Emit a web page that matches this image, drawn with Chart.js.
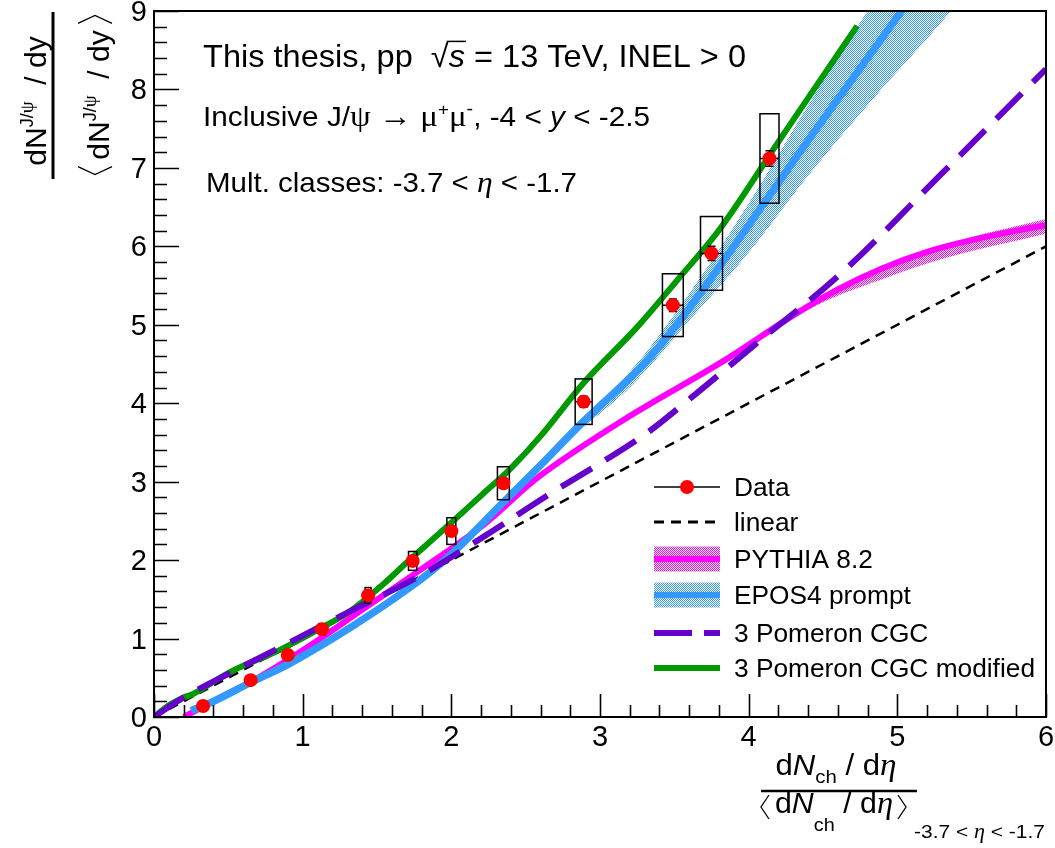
<!DOCTYPE html>
<html>
<head>
<meta charset="utf-8">
<script src="https://cdn.jsdelivr.net/npm/chart.js@4.4.0/dist/chart.umd.min.js"></script>
<style>
  html, body { margin: 0; padding: 0; background: #fff; }
  #c { display: block; width: 1055px; height: 848px; }
</style>
</head>
<body>
<canvas id="c" width="1055" height="848"></canvas>
<script>
// data points (with stat + syst uncertainties)
const dataX = [0.33, 0.65, 0.90, 1.13, 1.44, 1.74, 2.00, 2.35, 2.89, 3.49, 3.75, 4.14];
const dataY = [0.14, 0.47, 0.79, 1.12, 1.55, 1.99, 2.37, 2.98, 4.02, 5.25, 5.91, 7.12];
const dataStat = [0.03, 0.03, 0.03, 0.04, 0.04, 0.05, 0.05, 0.06, 0.07, 0.08, 0.09, 0.10];
const dataSysX = [0.01, 0.015, 0.015, 0.02, 0.02, 0.028, 0.03, 0.04, 0.057, 0.07, 0.074, 0.064];
const dataSysY = [0.02, 0.04, 0.05, 0.07, 0.10, 0.12, 0.17, 0.21, 0.29, 0.40, 0.47, 0.57];

// models
const linearX = [0, 6];
const linearY = [0, 6];

const pythiaX = [0.2, 0.45, 0.7, 1.0, 1.41, 1.75, 2.21, 2.6, 3.16, 3.84, 4.3, 4.6, 4.9, 5.2, 5.5, 5.8, 6.0];
const pythiaY = [0.0, 0.25, 0.5, 0.85, 1.38, 1.82, 2.44, 3.08, 3.79, 4.55, 5.12, 5.45, 5.72, 5.93, 6.08, 6.2, 6.27];
const pythiaBandX = [4.3, 4.6, 4.9, 5.2, 5.5, 5.8, 6.0];
const pythiaBandLo = [5.1, 5.37, 5.58, 5.78, 5.94, 6.07, 6.16];
const pythiaBandHi = [5.13, 5.47, 5.74, 5.95, 6.12, 6.26, 6.35];

const eposX = [0.25, 0.4, 0.65, 0.92, 1.32, 1.72, 1.99, 2.33, 2.6, 2.89, 3.27, 3.5, 3.75, 4.13, 4.4, 4.8, 5.2];
const eposY = [0.08, 0.2, 0.44, 0.69, 1.14, 1.65, 2.06, 2.70, 3.21, 3.77, 4.45, 4.96, 5.6, 6.62, 7.35, 8.4, 9.45];
const eposBandX = [2.4, 2.8, 3.2, 3.6, 4.0, 4.4, 4.8, 5.2, 5.5];
const eposBandLo = [2.79, 3.55, 4.2, 5.05, 5.92, 6.9, 7.8, 8.65, 9.3];
const eposBandHi = [2.85, 3.65, 4.4, 5.4, 6.55, 7.8, 9.0, 10.0, 10.8];

const cgcX = [0, 0.2, 0.5, 0.85, 1.32, 1.77, 2.21, 2.66, 3.27, 3.6, 4.05, 4.63, 5.29, 6.0];
const cgcY = [0, 0.25, 0.55, 0.89, 1.35, 1.78, 2.29, 2.84, 3.56, 4.05, 4.76, 5.67, 6.91, 8.26];

const cgcModX = [0, 0.1, 0.2, 0.26, 0.53, 0.83, 1.09, 1.32, 1.54, 1.7, 1.99, 2.21, 2.39, 2.6, 2.9, 3.25, 3.52, 3.81, 4.21, 4.5, 4.73];
const cgcModY = [0, 0.15, 0.25, 0.29, 0.59, 0.84, 1.10, 1.35, 1.69, 1.97, 2.46, 2.84, 3.15, 3.58, 4.28, 4.97, 5.57, 6.23, 7.36, 8.17, 8.81];

const xTicks = [0, 1, 2, 3, 4, 5, 6];
const yTicks = [0, 1, 2, 3, 4, 5, 6, 7, 8, 9];

const COL = { red: "#ff0000", pink: "#ff00ff", blue: "#3399ff", purple: "#6600cc", green: "#009900" };
const SANS = '"Liberation Sans", Arial, Helvetica, sans-serif';
const SERIF = '"Liberation Serif", "Times New Roman", serif';

const canvas = document.getElementById("c");
const ctx0 = canvas.getContext("2d");

function hatch(color) {
  const t = document.createElement("canvas");
  t.width = 2; t.height = 2;
  const g = t.getContext("2d");
  g.fillStyle = color;
  g.fillRect(0, 0, 1, 1);
  g.fillRect(1, 1, 1, 1);
  return ctx0.createPattern(t, "repeat");
}
const pinkHatch = hatch(COL.pink);
const blueHatch = hatch(COL.blue);

function pts(xs, ys) {
  return xs.map((x, i) => ({ x: x, y: ys[i] }));
}

function fontOf(p) {
  return (p.i ? "italic " : "") + p.s + "px " + (p.f === "serif" ? SERIF : SANS);
}
function richWidth(ctx, parts) {
  let w = 0;
  parts.forEach(p => { ctx.font = fontOf(p); w += ctx.measureText(p.t).width; });
  return w;
}
// draws text runs (sub/superscripts via dy); fitW stretches the line horizontally
function drawRich(ctx, x, y, parts, align, fitW) {
  const w0 = richWidth(ctx, parts);
  const sx = fitW ? fitW / w0 : 1;
  const w = w0 * sx;
  const x0 = align === "center" ? x - w / 2 : (align === "right" ? x - w : x);
  ctx.save();
  ctx.translate(x0, 0);
  ctx.scale(sx, 1);
  ctx.textBaseline = "alphabetic";
  ctx.textAlign = "left";
  let cx = 0;
  parts.forEach(p => {
    ctx.font = fontOf(p);
    const pw = ctx.measureText(p.t).width;
    ctx.fillText(p.t, cx, y + (p.dy || 0));
    if (p.over) {
      ctx.lineWidth = 1.5;
      ctx.beginPath();
      ctx.moveTo(cx - 2, y - p.s * 0.8);
      ctx.lineTo(cx + pw + 1, y - p.s * 0.8);
      ctx.stroke();
    }
    cx += pw;
  });
  ctx.restore();
  return { x0: x0, w: w };
}
function bracket(ctx, x, top, bot, w, left) {
  ctx.save();
  ctx.lineWidth = 1.3;
  ctx.beginPath();
  const mid = (top + bot) / 2;
  if (left) {
    ctx.moveTo(x + w, top); ctx.lineTo(x, mid); ctx.lineTo(x + w, bot);
  } else {
    ctx.moveTo(x, top); ctx.lineTo(x + w, mid); ctx.lineTo(x, bot);
  }
  ctx.stroke();
  ctx.restore();
}

const rootStyle = {
  id: "rootStyle",
  beforeDatasetDraw(chart, args) {
    if (args.index !== 0) return;
    const { ctx, scales: { x, y } } = chart;
    ctx.save();
    ctx.strokeStyle = "#000";
    ctx.lineWidth = 1.5;
    dataX.forEach((vx, i) => {
      const x0 = x.getPixelForValue(vx - dataSysX[i]);
      const x1 = x.getPixelForValue(vx + dataSysX[i]);
      const y0 = y.getPixelForValue(dataY[i] + dataSysY[i]);
      const y1 = y.getPixelForValue(dataY[i] - dataSysY[i]);
      ctx.strokeRect(x0, y0, x1 - x0, y1 - y0);
      const px = x.getPixelForValue(vx), py = y.getPixelForValue(dataY[i]);
      const s0 = y.getPixelForValue(dataY[i] + dataStat[i]);
      const s1 = y.getPixelForValue(dataY[i] - dataStat[i]);
      ctx.beginPath();
      ctx.moveTo(x0, py); ctx.lineTo(x1, py);
      ctx.moveTo(px, s0); ctx.lineTo(px, s1);
      ctx.moveTo(px - 4, s0); ctx.lineTo(px + 4, s0);
      ctx.moveTo(px - 4, s1); ctx.lineTo(px + 4, s1);
      ctx.stroke();
    });
    ctx.restore();
  },
  afterDraw(chart) {
    const { ctx, chartArea: a, scales: { x, y } } = chart;
    ctx.save();
    ctx.fillStyle = "#000";
    ctx.strokeStyle = "#000";

    // frame
    ctx.lineWidth = 2;
    ctx.strokeRect(a.left, a.top, a.right - a.left, a.bottom - a.top);

    // ticks pointing into the frame
    ctx.lineWidth = 1.6;
    ctx.beginPath();
    for (let k = 0; k <= 45; k++) {
      const py = Math.round(y.getPixelForValue(k * 0.2)) + 0.5;
      const len = k % 5 === 0 ? 25 : 13;
      ctx.moveTo(a.left, py); ctx.lineTo(a.left + len, py);
    }
    for (let k = 0; k <= 30; k++) {
      const px = Math.round(x.getPixelForValue(k * 0.2)) + 0.5;
      const len = k % 5 === 0 ? 23 : 12;
      ctx.moveTo(px, a.bottom); ctx.lineTo(px, a.bottom - len);
    }
    ctx.stroke();

    // tick labels
    ctx.font = "29px " + SANS;
    ctx.textAlign = "right";
    ctx.textBaseline = "alphabetic";
    yTicks.forEach(v => ctx.fillText(String(v), a.left - 7, y.getPixelForValue(v) + 10));
    ctx.textAlign = "center";
    xTicks.forEach(v => ctx.fillText(String(v), x.getPixelForValue(v), a.bottom + 29));

    // x title
    drawRich(ctx, 836, 775, [
      { t: "d", s: 29 }, { t: "N", s: 29, i: true }, { t: "ch", s: 19, dy: 8 },
      { t: " / d", s: 29 }, { t: "η", s: 31, i: true, f: "serif" }
    ], "center", 121);
    ctx.lineWidth = 2.5;
    ctx.beginPath(); ctx.moveTo(761, 791); ctx.lineTo(917, 791); ctx.stroke();
    const den = drawRich(ctx, 834, 813, [
      { t: "d", s: 29 }, { t: "N", s: 29, i: true }, { t: "ch", s: 19, dy: 18 },
      { t: " / d", s: 29 }, { t: "η", s: 31, i: true, f: "serif" }
    ], "center", 118);
    bracket(ctx, den.x0 - 14, 795, 819, 8, true);
    bracket(ctx, den.x0 + den.w + 5, 795, 819, 8, false);
    drawRich(ctx, 914, 838, [
      { t: "-3.7 < ", s: 19 }, { t: "η", s: 20, i: true, f: "serif" }, { t: " < -1.7", s: 19 }
    ], "left", 131);

    // y title (rotated fraction)
    ctx.save();
    ctx.translate(0, 95);
    ctx.rotate(-Math.PI / 2);
    drawRich(ctx, -6, 46, [
      { t: "dN", s: 30 }, { t: "J/", s: 18, dy: -13 }, { t: "ψ", s: 19, dy: -13, f: "serif" },
      { t: "  / dy", s: 30 }
    ], "center");
    ctx.lineWidth = 3;
    ctx.beginPath(); ctx.moveTo(-84, 53); ctx.lineTo(83, 53); ctx.stroke();
    const yden = drawRich(ctx, 0, 109, [
      { t: "dN", s: 30 }, { t: "J/", s: 18, dy: -13 }, { t: "ψ", s: 19, dy: -13, f: "serif" },
      { t: "  / dy", s: 30 }
    ], "center");
    bracket(ctx, yden.x0 - 15, 78, 112, 8, true);
    bracket(ctx, yden.x0 + yden.w + 7, 78, 112, 8, false);
    ctx.restore();

    // annotations
    drawRich(ctx, 203, 67, [
      { t: "This thesis, pp  ", s: 32 }, { t: "√", s: 32 },
      { t: "s", s: 32, i: true, over: true }, { t: " = 13 TeV, INEL > 0", s: 32 }
    ], "left", 543);
    drawRich(ctx, 203, 126, [
      { t: "Inclusive J/", s: 27 }, { t: "ψ", s: 30, f: "serif" }, { t: " ", s: 27 },
      { t: "→", s: 30 }, { t: " ", s: 27 },
      { t: "μ", s: 30, f: "serif" }, { t: "+", s: 17, dy: -11 }, { t: "μ", s: 30, f: "serif" },
      { t: "-", s: 18, dy: -11 }, { t: ", -4 < ", s: 27 }, { t: "y", s: 27, i: true }, { t: " < -2.5", s: 27 }
    ], "left", 447);
    drawRich(ctx, 206, 192, [
      { t: "Mult. classes: -3.7 < ", s: 28 }, { t: "η", s: 30, i: true, f: "serif" }, { t: " < -1.7", s: 28 }
    ], "left", 371);

    // legend
    const lx0 = 654, lx1 = 720, tx = 734;
    const rows = [487, 522, 559, 595, 633, 668];
    const names = ["Data", "linear", "PYTHIA 8.2", "EPOS4 prompt", "3 Pomeron CGC", "3 Pomeron CGC modified"];
    ctx.lineCap = "butt";
    ctx.lineWidth = 1.5; ctx.strokeStyle = "#000";
    ctx.beginPath(); ctx.moveTo(lx0, rows[0]); ctx.lineTo(lx1, rows[0]); ctx.stroke();
    ctx.fillStyle = COL.red;
    ctx.beginPath(); ctx.arc((lx0 + lx1) / 2, rows[0], 7, 0, Math.PI * 2); ctx.fill();
    ctx.lineWidth = 3; ctx.setLineDash([10, 7]);
    ctx.beginPath(); ctx.moveTo(lx0, rows[1]); ctx.lineTo(lx1, rows[1]); ctx.stroke();
    ctx.setLineDash([]);
    [[pinkHatch, COL.pink, rows[2]], [blueHatch, COL.blue, rows[3]]].forEach(([pat, c, ry]) => {
      ctx.fillStyle = pat;
      ctx.fillRect(lx0, ry - 12.5, lx1 - lx0, 25);
      ctx.strokeStyle = c; ctx.lineWidth = 6;
      ctx.beginPath(); ctx.moveTo(lx0, ry); ctx.lineTo(lx1, ry); ctx.stroke();
    });
    ctx.strokeStyle = COL.purple; ctx.lineWidth = 6; ctx.setLineDash([38, 12]);
    ctx.beginPath(); ctx.moveTo(lx0, rows[4]); ctx.lineTo(lx1, rows[4]); ctx.stroke();
    ctx.setLineDash([]);
    ctx.strokeStyle = COL.green;
    ctx.beginPath(); ctx.moveTo(lx0, rows[5]); ctx.lineTo(lx1, rows[5]); ctx.stroke();
    ctx.fillStyle = "#000";
    ctx.font = "25px " + SANS;
    const k = 301 / ctx.measureText(names[5]).width;
    names.forEach((n, i) => {
      const w = ctx.measureText(n).width * k;
      drawRich(ctx, tx, rows[i] + 9, [{ t: n, s: 25 }], "left", w);
    });

    ctx.restore();
  }
};

const line = (label, xs, ys, color, width, extra) => Object.assign({
  label: label,
  data: pts(xs, ys),
  showLine: true,
  borderColor: color,
  borderWidth: width,
  pointRadius: 0,
  fill: false,
  clip: 0,
  tension: 0.35
}, extra || {});

new Chart(canvas, {
  type: "scatter",
  data: {
    datasets: [
      {
        label: "Data",
        data: pts(dataX, dataY),
        pointRadius: 7,
        pointBackgroundColor: COL.red,
        pointBorderWidth: 0,
        borderColor: COL.red,
        showLine: false,
        clip: false,
        order: 0
      },
      line("3 Pomeron CGC", cgcX, cgcY, COL.purple, 6, { borderDash: [36, 16], order: 1 }),
      line("3 Pomeron CGC modified", cgcModX, cgcModY, COL.green, 6, { order: 2 }),
      line("EPOS4 prompt", eposX, eposY, COL.blue, 7.5, { order: 3 }),
      line("PYTHIA 8.2", pythiaX, pythiaY, COL.pink, 6, { order: 4 }),
      line("EPOS lo", eposBandX, eposBandLo, "rgba(0,0,0,0)", 0, { order: 5 }),
      line("EPOS hi", eposBandX, eposBandHi, "rgba(0,0,0,0)", 0, { order: 5, fill: "-1", backgroundColor: blueHatch }),
      line("PYTHIA lo", pythiaBandX, pythiaBandLo, "rgba(0,0,0,0)", 0, { order: 6 }),
      line("PYTHIA hi", pythiaBandX, pythiaBandHi, "rgba(0,0,0,0)", 0, { order: 6, fill: "-1", backgroundColor: pinkHatch }),
      line("linear", linearX, linearY, "#000", 2.5, { borderDash: [10, 7], order: 7, tension: 0 })
    ]
  },
  options: {
    responsive: false,
    animation: false,
    events: [],
    layout: { padding: { left: 154, right: 9, top: 11, bottom: 131 } },
    scales: {
      x: { type: "linear", min: 0, max: 6, display: false },
      y: { type: "linear", min: 0, max: 9, display: false }
    },
    plugins: {
      legend: { display: false },
      tooltip: { enabled: false }
    }
  },
  plugins: [rootStyle]
});
</script>
</body>
</html>
